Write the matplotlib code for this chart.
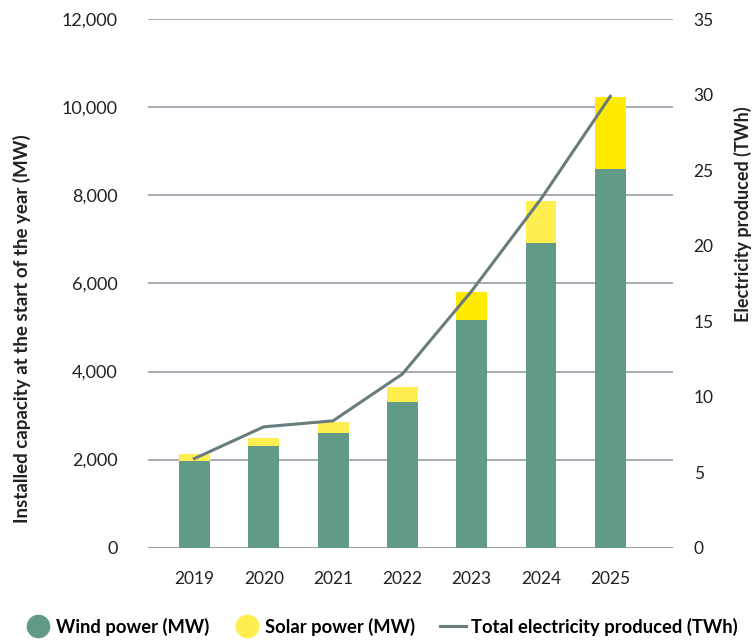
import numpy as np
import matplotlib
matplotlib.use('Agg')
import matplotlib.pyplot as plt
from matplotlib.lines import Line2D

plt.rcParams['font.family'] = ['Lato', 'DejaVu Sans']

years = ['2019', '2020', '2021', '2022', '2023', '2024', '2025']
wind_mw = [1970, 2310, 2610, 3310, 5175, 6910, 8610]
solar_mw = [160, 180, 250, 340, 636, 970, 1630]
total_twh = [5.9, 8.0, 8.4, 11.5, 17.0, 23.1, 29.9]

wind_color = '#619a86'
solar_light = '#ffee50'
solar_bright = '#ffea00'
solar_colors = [solar_light, solar_light, solar_light, solar_light,
                solar_bright, solar_light, solar_bright]
line_color = '#687c7e'
grid_color = '#aaaab4'
text_color = '#222222'

fig = plt.figure(figsize=(7.55, 6.42), dpi=100)
ax = fig.add_axes([0.196, 0.147, 0.695, 0.823])
ax2 = ax.twinx()

x = np.arange(len(years))
ax.bar(x, wind_mw, width=0.447, color=wind_color, zorder=3)
ax.bar(x, solar_mw, width=0.447, bottom=wind_mw, color=solar_colors, zorder=3)
ax2.plot(x, total_twh, color=line_color, linewidth=2.2, zorder=4)

ax.set_xlim(-0.67, 6.9)
ax.set_ylim(0, 12000)
ax2.set_ylim(0, 35)

ax.set_yticks(np.arange(0, 12001, 2000))
ax.set_yticklabels([f'{v:,}' for v in range(0, 12001, 2000)])
ax2.set_yticks(np.arange(0, 36, 5))
ax.set_xticks(x)
ax.set_xticklabels(years)

ax.grid(axis='y', color=grid_color, linewidth=1.4, zorder=0)
ax.axhline(0, color='#9c9caa', linewidth=2.2, zorder=2)

for a in (ax, ax2):
    for s in a.spines.values():
        s.set_visible(False)
ax.tick_params(axis='y', length=0, pad=22, labelsize=13, labelcolor=text_color)
ax.tick_params(axis='x', length=0, pad=17, labelsize=12.5, labelcolor=text_color)
ax2.tick_params(axis='y', length=0, pad=15, labelsize=12.5, labelcolor=text_color)

ax.set_ylabel('Installed capacity at the start of the year (MW)', fontsize=13.5,
              fontweight='bold', color=text_color)
ax.yaxis.set_label_coords(-0.222, 0.414)
ax2.set_ylabel('Electricity produced (TWh)', fontsize=13, fontweight='bold',
               color=text_color)
ax2.yaxis.set_label_coords(1.117, 0.631)

handles = [
    Line2D([], [], marker='o', linestyle='none', markersize=16,
           markerfacecolor=wind_color, markeredgecolor=wind_color),
    Line2D([], [], marker='o', linestyle='none', markersize=16,
           markerfacecolor=solar_light, markeredgecolor=solar_light),
    Line2D([], [], color=line_color, linewidth=2.2),
]
labels = ['Wind power (MW)', 'Solar power (MW)', 'Total electricity produced (TWh)']
fig.legend(handles, labels, loc='center', bbox_to_anchor=(0.505, 0.024), ncol=3,
           frameon=False, prop={'weight': 'bold', 'size': 13.2},
           handlelength=1.4, handletextpad=0.25, columnspacing=1.4,
           borderpad=0.1)

fig.savefig('out.png', dpi=100)
